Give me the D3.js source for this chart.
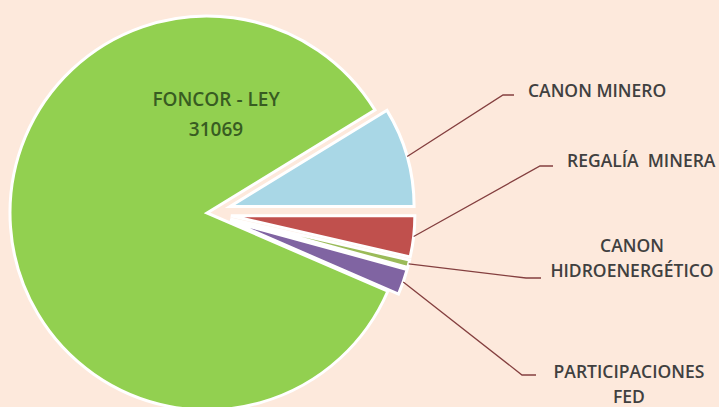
<!DOCTYPE html>
<html>
<head>
<meta charset="utf-8">
<script src="https://cdn.jsdelivr.net/npm/d3@7"></script>
<style>
  html, body { margin: 0; padding: 0; background: #fde9dc; }
  svg { display: block; }
  .lbl { font-family: "Open Sans", sans-serif; font-weight: 600; fill: #404040; white-space: pre; }
</style>
</head>
<body>
<div id="chart"></div>
<script>
// slice names (lines split for multi-line labels)
var categories = ["FONCOR - LEY|31069", "CANON MINERO", "REGALÍA  MINERA", "CANON|HIDROENERGÉTICO", "PARTICIPACIONES|FED"];
// share of each slice (%)
var values = [84.75, 8.75, 3.6, 0.65, 2.25];
var colors = ["#92d050", "#a9d7e6", "#c0504d", "#9bbb59", "#8064a2"];

var width = 719, height = 407;
var cx = 207, cy = 213;
var rMain = 197, rSmall = 184, explode = 24;

// label layout for the outside labels: elbow point, end of leader, text anchor
var labelPos = [
  null,
  {ex: 503, ey: 95, lx: 514, tx: 528, ty: 97, anchor: "start"},
  {ex: 540, ey: 166, lx: 553, tx: 567, ty: 167, anchor: "start"},
  {ex: 526, ey: 278, lx: 541, tx: 632, ty: 252, anchor: "middle"},
  {ex: 522, ey: 375, lx: 536, tx: 629, ty: 378, anchor: "middle"}
];

var svg = d3.select("#chart").append("svg")
  .attr("width", width)
  .attr("height", height);

svg.append("rect").attr("width", width).attr("height", height).attr("fill", "#fde9dc");

// blue slice ends on the horizontal (3 o'clock)
var total = d3.sum(values);
var before = (values[0] + values[1]) / total * 2 * Math.PI;
var start = Math.PI / 2 - before;

var pie = d3.pie().sort(null).value(d => d)
  .startAngle(start).endAngle(start + 2 * Math.PI);
var arcs = pie(values);

var g = svg.append("g");

arcs.forEach(function(a, i) {
  var mid = (a.startAngle + a.endAngle) / 2;
  var off = i == 0 ? 0 : explode;
  var ox = cx + off * Math.sin(mid), oy = cy - off * Math.cos(mid);
  var r = i == 0 ? rMain : rSmall;
  var arc = d3.arc().innerRadius(0).outerRadius(r);
  g.append("path")
    .attr("transform", `translate(${ox}, ${oy})`)
    .attr("d", arc(a))
    .attr("fill", colors[i])
    .attr("stroke", "#ffffff")
    .attr("stroke-width", 3)
    .attr("stroke-linejoin", "miter");
  a.ox = ox; a.oy = oy; a.mid = mid; a.r = r;
});

// inside label for the big slice
var lines0 = categories[0].split("|");
svg.append("text")
  .attr("class", "lbl")
  .attr("text-anchor", "middle")
  .attr("x", 216).attr("y", 106)
  .style("font-size", "19px")
  .style("fill", "#385c22")
  .selectAll("tspan").data(lines0).enter().append("tspan")
  .attr("x", 216)
  .attr("dy", (d, i) => i == 0 ? 0 : 30)
  .text(d => d);

// leaders + outside labels
arcs.forEach(function(a, i) {
  if (i == 0) return;
  var p = labelPos[i];
  var sx = a.ox + a.r * Math.sin(a.mid), sy = a.oy - a.r * Math.cos(a.mid);
  svg.append("polyline")
    .attr("points", [[sx, sy], [p.ex, p.ey], [p.lx, p.ey]].map(q => q.join(",")).join(" "))
    .attr("fill", "none")
    .attr("stroke", "#843f3f")
    .attr("stroke-width", 1.3);
  var lines = categories[i].split("|");
  svg.append("text")
    .attr("class", "lbl")
    .attr("text-anchor", p.anchor)
    .attr("y", p.ty)
    .style("font-size", "17.5px")
    .selectAll("tspan").data(lines).enter().append("tspan")
    .attr("x", p.tx)
    .attr("dy", (d, j) => j == 0 ? 0 : 25)
    .text(d => d);
});
</script>
</body>
</html>
